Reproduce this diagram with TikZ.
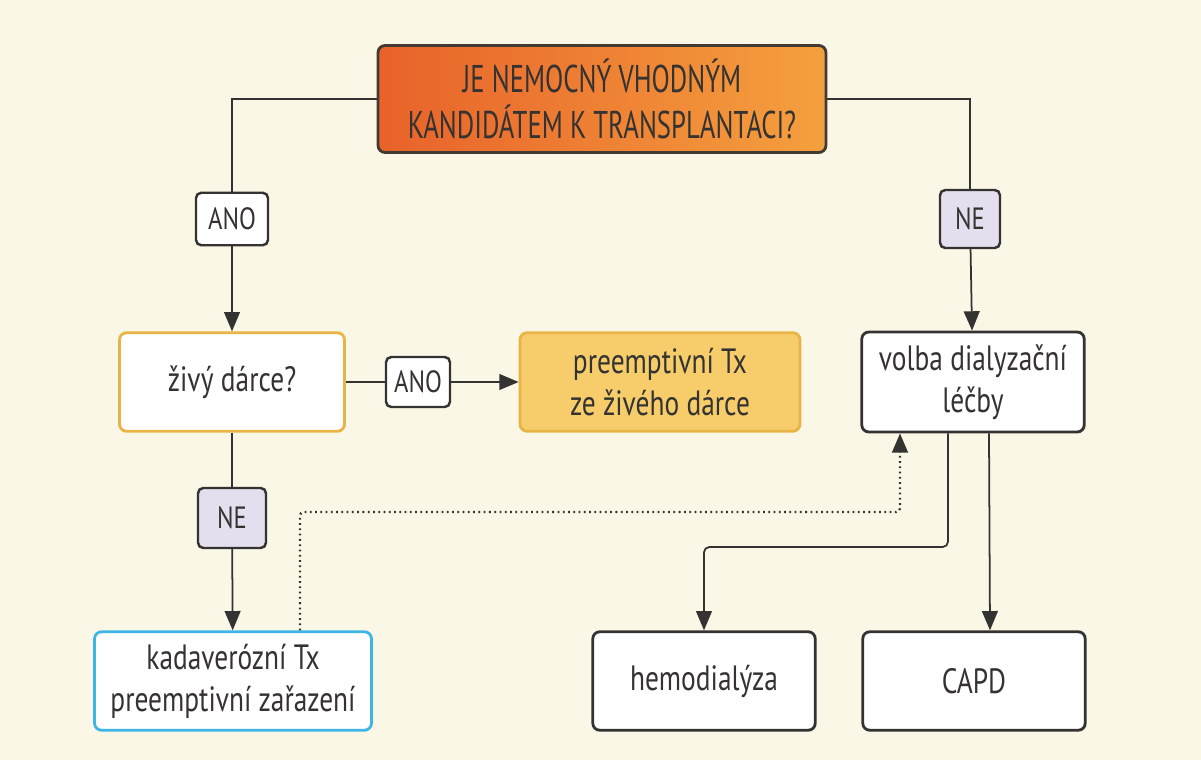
\documentclass[tikz,border=0pt]{standalone}
\usepackage{fontspec}
\setmainfont{PT Sans}[FakeStretch=0.78]
\newfontfamily\capsfont{PT Sans}[FakeStretch=0.69]
\newfontfamily\tagfont{PT Sans}[FakeStretch=0.8]
\usetikzlibrary{arrows.meta,positioning,calc}

\definecolor{paper}{HTML}{FBF7E6}
\definecolor{ink}{HTML}{343332}
\definecolor{goldline}{HTML}{E8B445}
\definecolor{goldfill}{HTML}{F6CD6A}
\definecolor{skyline}{HTML}{3DB5E6}
\definecolor{lilac}{HTML}{E4DEEE}
\definecolor{redorange}{HTML}{E8622A}
\definecolor{lightorange}{HTML}{F4A03E}

\begin{document}
\begin{tikzpicture}[
        x=0.02cm, y=-0.02cm,
        box/.style={rectangle, draw=ink, line width=1.6pt, fill=white, rounded corners=4pt, text=ink, align=center, font=\fontsize{20}{24}\selectfont, minimum width=4.45cm, minimum height=1.97cm},
        answer/.style={rectangle, draw=ink, line width=1.4pt, fill=white, rounded corners=3pt, text=ink, font=\tagfont\fontsize{17.5}{20}\selectfont, minimum height=1.05cm, inner xsep=3pt},
        link/.style={draw=ink, line width=1pt},
        arr/.style={link, -{Triangle[width=9pt,length=11pt]}}
    ]
        \fill[paper] (0,0) rectangle (1201,760);
        \useasboundingbox (0,0) rectangle (1201,760);

        % Question
        \node[box, minimum width=8.96cm, minimum height=2.14cm, font=\capsfont\fontsize{22}{26}\selectfont, left color=redorange, right color=lightorange, draw=ink!90!brown] (q_root) at (602,99) {JE NEMOCNÝ VHODNÝM\\KANDIDÁTEM K TRANSPLANTACI?};

        % Left branch
        \node[answer, minimum width=1.44cm] (ano_left) at (232,219) {ANO};
        \node[box, draw=goldline, minimum width=4.5cm] (living) at (232,382) {živý dárce?};
        \node[answer, minimum width=1.28cm, minimum height=1.0cm] (ano_mid) at (418,382) {ANO};
        \node[box, draw=goldline, fill=goldfill, minimum width=5.6cm] (preempt) at (660,382) {preemptivní Tx\\ze živého dárce};
        \node[answer, fill=lilac, minimum width=1.36cm, minimum height=1.2cm] (ne_left) at (232,518) {NE};
        \node[box, draw=skyline, minimum width=5.54cm] (cadaver) at (233,681) {kadaverózní Tx\\preemptivní zařazení};

        % Right branch
        \node[answer, fill=lilac, minimum width=1.2cm, minimum height=1.16cm] (ne_right) at (970,219) {NE};
        \node[box, minimum height=2cm] (volba) at (973,382) {volba dialyzační\\léčby};
        \node[box] (hemo) at (704,681) {hemodialýza};
        \node[box] (capd) at (974,681) {CAPD};

        \coordinate (dot_turn) at (900,512);
        \coordinate (hemo_turn) at (948,547);

        \draw[link] (q_root.west) -| (ano_left.north);
        \draw[arr] (ano_left) -- (living);
        \draw[link] (living) -- (ano_mid);
        \draw[arr] (ano_mid) -- (preempt);
        \draw[link] (living) -- (ne_left);
        \draw[arr] (ne_left) -- (cadaver);

        \draw[link] (q_root.east) -| (ne_right.north);
        \draw[arr] (ne_right) -- (volba);

        \draw[arr, dotted, line width=1.3pt, rounded corners=2pt] ([xshift=1.34cm]cadaver.north) |- (dot_turn) -- (dot_turn |- volba.south);
        \draw[arr, rounded corners=3pt] (hemo_turn |- volba.south) -- (hemo_turn) -| (hemo.north);
        \draw[arr] ([xshift=0.32cm]volba.south) -- ([xshift=0.32cm]capd.north);

    \end{tikzpicture}
\end{document}
